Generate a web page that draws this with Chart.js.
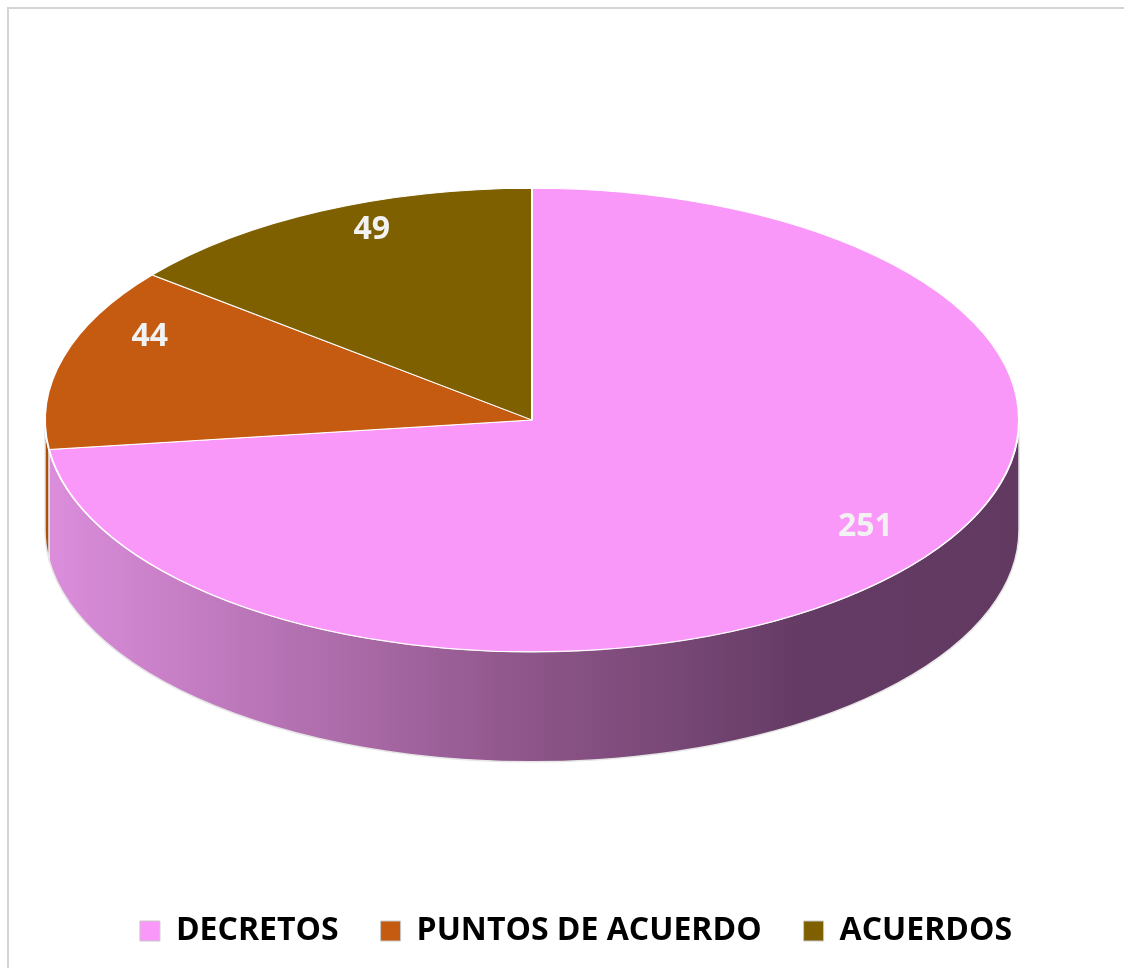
<!DOCTYPE html>
<html lang="es">
<head>
  <meta charset="UTF-8" />
  <title>Decretos, puntos de acuerdo y acuerdos</title>
  <script src="https://cdn.jsdelivr.net/npm/chart.js"></script>
  <style>
    body {
      margin: 0;
      background: #ffffff;
      width: 1124px;
      height: 968px;
      overflow: hidden;
      position: relative;
    }

    .marco {
      position: absolute;
      left: 7px;
      top: 7px;
      width: 1140px;
      height: 1000px;
      border-left: 2px solid #d4d4d4;
      border-top: 2px solid #d4d4d4;
    }

    canvas {
      position: absolute;
      left: 0;
      top: 0;
    }
  </style>
</head>

<body>
  <div class="marco"></div>
  <canvas id="grafica" width="1124" height="968"></canvas>

  <script>
    // datos
    const categorias = ['DECRETOS', 'PUNTOS DE ACUERDO', 'ACUERDOS'];
    const valores = [251, 44, 49];
    const colores = ['#fa98fa', '#c55a11', '#7f6000'];

    // geometria del pastel "3d"
    const centroX = 532;
    const centroY = 420;
    const radio = 487;
    const aplastar = 0.476;
    const grosor = 110;

    // perspectiva aproximada para colocar las etiquetas como en Excel
    function proyectar(u, v) {
      const den = 1 - 0.138 * v;
      return {
        x: centroX + u * 482 / den,
        y: (174 * v + 388) / den
      };
    }

    const pastel3d = {
      id: 'pastel3d',
      beforeDatasetsDraw(chart) {
        const ctx = chart.ctx;
        const arcos = chart.getDatasetMeta(0).data;
        ctx.save();

        // costado del pastel (solo la parte de enfrente)
        arcos.forEach((arco, i) => {
          let a = arco.startAngle;
          let b = arco.endAngle;
          while (a < 0) { a += Math.PI * 2; b += Math.PI * 2; }
          const partes = [[a, b], [a - Math.PI * 2, b - Math.PI * 2]];
          partes.forEach(([s, e]) => {
            const ini = Math.max(s, 0);
            const fin = Math.min(e, Math.PI);
            if (fin <= ini) return;
            const grad = ctx.createLinearGradient(centroX - radio, 0, centroX + radio, 0);
            if (i === 0) {
              grad.addColorStop(0, '#dc8edc');
              grad.addColorStop(0.5, '#8d5589');
              grad.addColorStop(0.78, '#643b64');
              grad.addColorStop(1, '#613961');
            } else {
              grad.addColorStop(0, '#a8500f');
              grad.addColorStop(1, '#6a300a');
            }
            ctx.beginPath();
            ctx.ellipse(centroX, centroY, radio, radio * aplastar, 0, ini, fin);
            ctx.ellipse(centroX, centroY + grosor, radio, radio * aplastar, 0, fin, ini, true);
            ctx.closePath();
            ctx.fillStyle = grad;
            ctx.fill();
            ctx.lineWidth = 1.5;
            ctx.strokeStyle = '#e6e6e6';
            ctx.stroke();
          });
        });

        // la cara de arriba se dibuja aplastada
        const cx = arcos[0].x;
        const cy = arcos[0].y;
        ctx.translate(centroX, centroY);
        ctx.scale(1, aplastar);
        ctx.translate(-cx, -cy);
      },
      afterDatasetsDraw(chart) {
        const ctx = chart.ctx;
        ctx.restore();

        // etiquetas de valores
        const arcos = chart.getDatasetMeta(0).data;
        ctx.save();
        ctx.font = 'bold 32px "Open Sans", sans-serif';
        ctx.fillStyle = '#f2f2f2';
        ctx.textAlign = 'center';
        ctx.textBaseline = 'middle';
        arcos.forEach((arco, i) => {
          const medio = (arco.startAngle + arco.endAngle) / 2;
          const p = proyectar(0.85 * Math.cos(medio), 0.85 * Math.sin(medio));
          ctx.fillText(valores[i], p.x, p.y);
        });
        ctx.restore();
      }
    };

    const ctx = document.getElementById('grafica').getContext('2d');
    const chart = new Chart(ctx, {
      type: 'pie',
      data: {
        labels: categorias,
        datasets: [{
          data: valores,
          backgroundColor: colores,
          borderColor: '#ffffff',
          borderWidth: 2,
          radius: radio,
          clip: false
        }]
      },
      options: {
        responsive: false,
        devicePixelRatio: 1,
        animation: false,
        layout: {
          padding: { left: 28, right: 0, top: 0, bottom: 11 }
        },
        plugins: {
          tooltip: { enabled: false },
          legend: {
            position: 'bottom',
            labels: {
              color: '#000000',
              boxWidth: 20,
              boxHeight: 20,
              padding: 42,
              font: { family: '"Open Sans", sans-serif', size: 32, weight: 'bold' },
              generateLabels(chart) {
                return categorias.map((c, i) => ({
                  text: c,
                  fillStyle: colores[i],
                  strokeStyle: '#c8c8c8',
                  lineWidth: 1,
                  index: i
                }));
              }
            }
          }
        }
      },
      plugins: [pastel3d]
    });
  </script>
</body>
</html>
